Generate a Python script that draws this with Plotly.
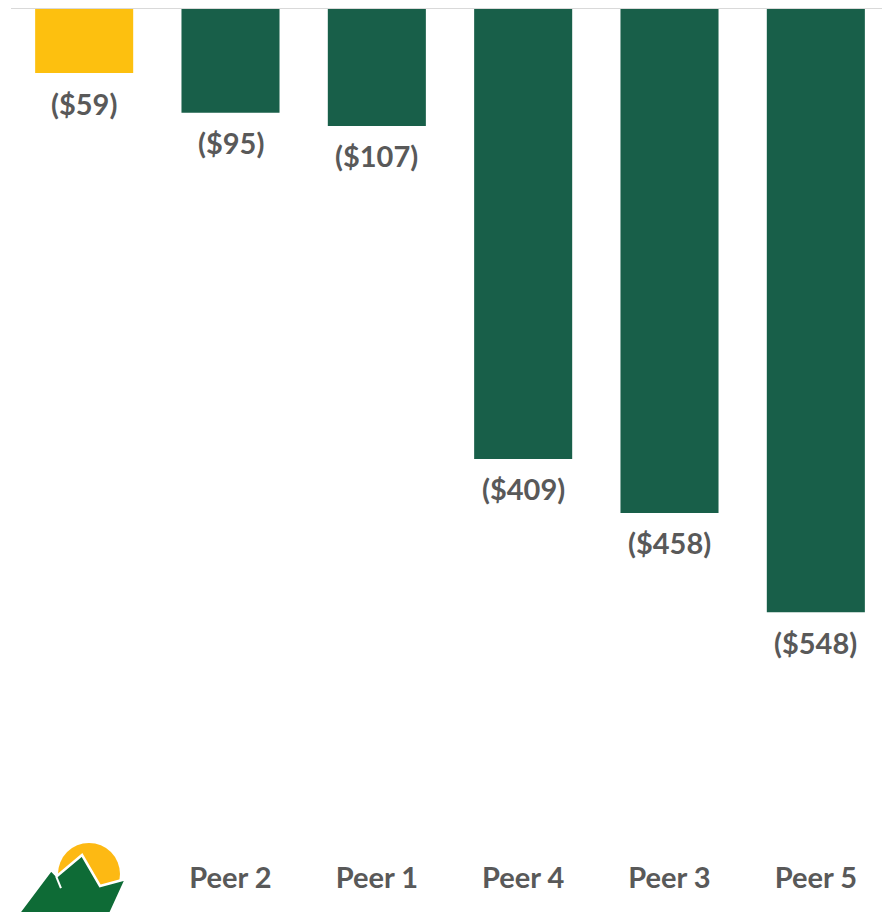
import plotly.graph_objects as go

categories = ["Company", "Peer 2", "Peer 1", "Peer 4", "Peer 3", "Peer 5"]
tick_labels = ["", "Peer 2", "Peer 1", "Peer 4", "Peer 3", "Peer 5"]
values = [-59, -95, -107, -409, -458, -548]
bar_colors = ["#FDC00F", "#185F49", "#185F49", "#185F49", "#185F49", "#185F49"]
labels = [f"(${abs(v)})" for v in values]

# page has an 8px body margin; figure sized to fit the 890x912 window
W, H = 882, 904
ML, MR, MT, MB = 3, 1, 0, 54
FONT = dict(family="Lato", size=29, color="#595959", weight="bold")

fig = go.Figure()
fig.add_trace(go.Bar(
    x=categories, y=values,
    marker=dict(color=bar_colors, line=dict(width=0)),
    hoverinfo="x+y",
))

annotations = [
    dict(x=c, y=v, xref="x", yref="y", text=t, showarrow=False,
         yanchor="middle", yshift=-30, font=FONT)
    for c, v, t in zip(categories, values, labels)
]

# decorative logo, page-pixel -> paper conversion
pw, ph = W - ML - MR, H - MT - MB
def px(x): return (x - 8 - ML) / pw
def py(y): return 1 - (y - 8 - MT) / ph
def path(pts, close=True):
    s = "M " + " L ".join(f"{px(a):.4f},{py(b):.4f}" for a, b in pts)
    return s + (" Z" if close else "")

shapes = [
    dict(type="line", xref="paper", yref="y", x0=0, x1=1, y0=0, y1=0,
         line=dict(color="#D9D9D9", width=2), layer="above"),
    dict(type="circle", xref="paper", yref="paper",
         x0=px(58), x1=px(120), y0=py(905), y1=py(843),
         fillcolor="#FDB913", line=dict(width=0)),
    dict(type="path", xref="paper", yref="paper",
         path=path([(18, 914), (51, 870), (57, 876), (82, 855), (100, 886),
                    (126, 879), (110, 914)]),
         fillcolor="#0E6B36", line=dict(color="white", width=2.5)),
    dict(type="path", xref="paper", yref="paper",
         path=path([(56, 876), (61, 888)], close=False),
         line=dict(color="white", width=2)),
]

fig.update_layout(
    width=W, height=H,
    margin=dict(l=ML, r=MR, t=MT, b=MB),
    paper_bgcolor="white", plot_bgcolor="white",
    showlegend=False, bargap=0.33,
    shapes=shapes, annotations=annotations,
    xaxis=dict(tickvals=categories, ticktext=tick_labels, showgrid=False,
               showline=False, ticks="", zeroline=False, tickfont=FONT),
    yaxis=dict(range=[-771, 0], visible=False, showgrid=False, zeroline=False),
)

fig.write_html("out.html")
